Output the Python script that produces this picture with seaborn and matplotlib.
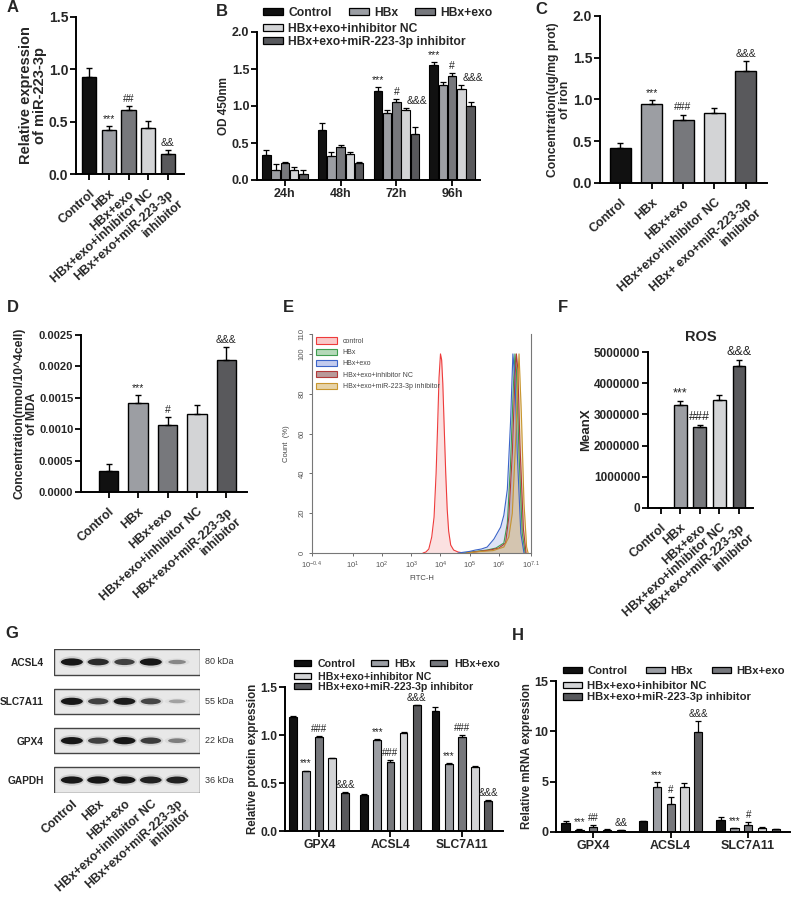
import matplotlib

matplotlib.use("Agg")
import matplotlib.pyplot as plt
from matplotlib.patches import Ellipse, Patch, Rectangle
import numpy as np
import pandas as pd
import seaborn as sns

sns.set_theme(style="ticks")
plt.rcParams["font.family"] = ["Liberation Sans", "DejaVu Sans"]
plt.rcParams["mathtext.fontset"] = "custom"
plt.rcParams["mathtext.rm"] = "Liberation Sans"
plt.rcParams["mathtext.it"] = "Liberation Sans:italic"
plt.rcParams["mathtext.bf"] = "Liberation Sans:bold"

GROUPS = ["Control", "HBx", "HBx+exo", "HBx+exo+inhibitor NC", "HBx+exo+miR-223-3p inhibitor"]
TICK_LABELS = ["Control", "HBx", "HBx+exo", "HBx+exo+inhibitor NC", "HBx+exo+miR-223-3p\ninhibitor"]
C_TICK_LABELS = ["Control", "HBx", "HBx+exo", "HBx+exo+inhibitor NC", "HBx+ exo+miR-223-3p\ninhibitor"]
BAR_COLORS = ["#111111", "#9b9ea4", "#76787d", "#d3d4d6", "#58595d"]

# A - miR-223-3p
A_VALS = [0.93, 0.42, 0.61, 0.44, 0.19]
A_ERR = [0.08, 0.04, 0.04, 0.07, 0.04]
A_MARKS = ["", "***", "##", "", "&&"]

# B - CCK-8, one list per group over time
B_TIMES = ["24h", "48h", "72h", "96h"]
B_VALS = [
    [0.34, 0.68, 1.20, 1.55],
    [0.14, 0.32, 0.90, 1.28],
    [0.23, 0.44, 1.05, 1.40],
    [0.14, 0.35, 0.95, 1.23],
    [0.08, 0.23, 0.62, 1.00],
]
B_ERR = [
    [0.06, 0.09, 0.06, 0.04],
    [0.07, 0.06, 0.05, 0.04],
    [0.02, 0.03, 0.04, 0.04],
    [0.03, 0.03, 0.02, 0.05],
    [0.06, 0.01, 0.10, 0.05],
]
B_MARKS = [
    ["", "", "***", "***"],
    ["", "", "", ""],
    ["", "", "#", "#"],
    ["", "", "", ""],
    ["", "", "&&&", "&&&"],
]

# C - iron
C_VALS = [0.42, 0.95, 0.76, 0.84, 1.34]
C_ERR = [0.06, 0.04, 0.06, 0.06, 0.12]
C_MARKS = ["", "***", "###", "", "&&&"]

# D - MDA
D_VALS = [0.00034, 0.00141, 0.00106, 0.00125, 0.00210]
D_ERR = [0.00010, 0.00013, 0.00014, 0.00014, 0.00021]
D_MARKS = ["", "***", "#", "", "&&&"]

# E - flow cytometry histograms (log10 FITC-H, count %)
E_LABELS = ["control", "HBx", "HBx+exo", "HBx+exo+inhibitor NC", "HBx+exo+miR-223-3p inhibitor"]
E_LINE_COLORS = ["#ee3b3b", "#3f9d4f", "#3b64c8", "#b23a3a", "#c8962e"]
E_FILL_COLORS = ["#f9c9c9", "#b5d9b9", "#c3cbee", "#b89a9a", "#e6d3a8"]
E_LOGX = [
    [3.40, 3.50, 3.60, 3.70, 3.78, 3.85, 3.90, 3.95, 4.00, 4.04, 4.08, 4.13, 4.18, 4.23, 4.28, 4.35, 4.45, 4.60, 4.80],
    [4.80, 5.20, 5.60, 5.90, 6.17, 6.29, 6.40, 6.50, 6.55, 6.60, 6.69, 6.80, 6.90],
    [4.60, 5.00, 5.20, 5.40, 5.60, 5.83, 6.06, 6.17, 6.29, 6.40, 6.48, 6.55, 6.63, 6.75, 6.86],
    [4.90, 5.30, 5.70, 6.00, 6.23, 6.34, 6.46, 6.55, 6.60, 6.65, 6.72, 6.84, 6.93],
    [4.90, 5.40, 5.80, 6.17, 6.34, 6.46, 6.57, 6.66, 6.69, 6.77, 6.86, 6.95, 7.00],
]
E_COUNTS = [
    [0, 0.5, 2, 8, 18, 40, 63, 88, 100, 97, 85, 62, 40, 22, 11, 4, 1.5, 0.5, 0],
    [0, 0.8, 1.5, 2.5, 5, 15, 45, 85, 100, 92, 50, 10, 0],
    [0, 0.8, 1.5, 2.0, 3, 7, 13, 19, 32, 66, 100, 88, 50, 10, 0],
    [0, 0.8, 1.5, 2.5, 5, 18, 50, 88, 100, 92, 55, 12, 0],
    [0, 0.8, 1.2, 3, 8, 20, 55, 90, 100, 70, 25, 3, 0],
]
E_XTICK_EXP = ["-0.4", "1", "2", "3", "4", "5", "6", "7.1"]
E_YTICKS = [0, 20, 40, 60, 80, 100, 110]

# F - ROS
F_VALS = [0, 3310000, 2600000, 3470000, 4560000]
F_ERR = [0, 110000, 50000, 150000, 170000]
F_MARKS = ["", "***", "###", "", "&&&"]

# G - western blot and quantification
BLOT_PROTEINS = ["ACSL4", "SLC7A11", "GPX4", "GAPDH"]
BLOT_KDA = ["80 kDa", "55 kDa", "22 kDa", "36 kDa"]
BLOT_INTENSITY = [
    [0.95, 0.85, 0.75, 0.95, 0.40],
    [0.95, 0.75, 0.92, 0.72, 0.28],
    [0.95, 0.75, 0.95, 0.78, 0.45],
    [0.95, 0.95, 0.95, 0.90, 0.90],
]
GENES = ["GPX4", "ACSL4", "SLC7A11"]
G_VALS = [
    [1.19, 0.38, 1.25],
    [0.62, 0.95, 0.70],
    [0.98, 0.72, 0.98],
    [0.76, 1.02, 0.67],
    [0.40, 1.31, 0.31],
]
G_ERR = [
    [0.01, 0.005, 0.04],
    [0.01, 0.01, 0.01],
    [0.01, 0.02, 0.02],
    [0.005, 0.01, 0.005],
    [0.01, 0.005, 0.01],
]
G_MARKS = [
    ["", "", ""],
    ["***", "***", "***"],
    ["###", "###", "###"],
    ["", "", ""],
    ["&&&", "&&&", "&&&"],
]

# H - qPCR
H_VALS = [
    [0.90, 1.05, 1.20],
    [0.20, 4.50, 0.35],
    [0.45, 2.75, 0.70],
    [0.22, 4.50, 0.40],
    [0.15, 9.90, 0.28],
]
H_ERR = [
    [0.15, 0.05, 0.25],
    [0.05, 0.45, 0.05],
    [0.20, 0.70, 0.25],
    [0.05, 0.40, 0.08],
    [0.05, 1.15, 0.05],
]
H_MARKS = [
    ["", "", ""],
    ["***", "***", "***"],
    ["##", "#", "#"],
    ["", "", ""],
    ["&&", "&&&", ""],
]

W, H = 795, 899
ROT = 42
fig = plt.figure(figsize=(W / 100, H / 100), dpi=100)


def px_axes(left, top, right, bottom):
    return fig.add_axes([left / W, 1 - bottom / H, (right - left) / W, (bottom - top) / H])


def prism_style(ax, yticks, ylabels, ylabel, ylabel_size, tick_size):
    sns.despine(ax=ax)
    for side in ("left", "bottom"):
        ax.spines[side].set_linewidth(1.4)
        ax.spines[side].set_color("black")
    ax.tick_params(direction="out", length=4, width=1.3, color="black", labelsize=tick_size, pad=1.5)
    ax.set_ylim(yticks[0], yticks[-1])
    ax.set_yticks(yticks)
    ax.set_yticklabels(ylabels, fontweight="bold")
    ax.set_ylabel(ylabel, fontsize=ylabel_size, fontweight="bold", labelpad=1, linespacing=1.0)
    ax.set_xlabel("")
    ax.set_facecolor("none")


def mark(ax, x, y, text, size=7.5):
    ax.annotate(text, (x, y), xytext=(0, 1.5), textcoords="offset points",
                ha="center", va="bottom", fontsize=size, color="#222222", fontweight="normal")


def single_panel(box, vals, errs, marks, labels, width, xlim, yticks, ylabels, ylabel,
                 ylabel_size, tick_size, mark_size=7.5):
    ax = px_axes(*box)
    df = pd.DataFrame({"group": GROUPS, "value": vals})
    sns.barplot(data=df, x="group", y="value", hue="group", palette=BAR_COLORS, width=width,
                edgecolor="black", linewidth=1.0, errorbar=None, legend=False, ax=ax)
    xs = np.arange(len(GROUPS))
    ax.errorbar(xs, vals, yerr=[np.zeros(len(vals)), errs], fmt="none", ecolor="black",
                elinewidth=1.0, capsize=2.5, capthick=1.0)
    for x, v, e, m in zip(xs, vals, errs, marks):
        if m:
            mark(ax, x, v + e, m, mark_size)
    prism_style(ax, yticks, ylabels, ylabel, ylabel_size, tick_size)
    ax.set_xlim(*xlim)
    ax.set_xticks(xs)
    ax.set_xticklabels(labels, rotation=ROT, ha="right", rotation_mode="anchor",
                       fontweight="bold", fontsize=9)
    ax.tick_params(axis="x", pad=6)
    return ax


def grouped_panel(box, cats, vals, errs, width, gap, xlim):
    ax = px_axes(*box)
    rows = [(c, g, v) for g, vv in zip(GROUPS, vals) for c, v in zip(cats, vv)]
    df = pd.DataFrame(rows, columns=["cat", "group", "value"])
    sns.barplot(data=df, x="cat", y="value", hue="group", hue_order=GROUPS, palette=BAR_COLORS,
                width=width, gap=gap, edgecolor="black", linewidth=0.8, errorbar=None,
                legend=False, ax=ax)
    centers = []
    for cont, vv, ee in zip(list(ax.containers), vals, errs):
        xs = [b.get_x() + b.get_width() / 2 for b in cont]
        ax.errorbar(xs, vv, yerr=[np.zeros(len(vv)), ee], fmt="none", ecolor="black",
                    elinewidth=0.9, capsize=2, capthick=0.9)
        centers.append(xs)
    ax.set_xlim(*xlim)
    return ax, centers


def legend_rows(x, y, row_gap, size, hlen, htpad, colsp, lspace=0.1):
    handles = [Patch(facecolor=c, edgecolor="black", linewidth=0.9) for c in BAR_COLORS]
    kw = dict(loc="upper left", frameon=False, prop={"weight": "bold", "size": size},
              handlelength=hlen, handleheight=0.55, handletextpad=htpad, borderpad=0,
              borderaxespad=0, labelspacing=lspace)
    fig.legend(handles[:3], GROUPS[:3], bbox_to_anchor=(x / W, 1 - y / H), ncol=3,
               columnspacing=colsp, **kw)
    fig.legend(handles[3:], GROUPS[3:], bbox_to_anchor=(x / W, 1 - (y + row_gap) / H),
               ncol=1, **kw)


def panel_letter(x, y, s):
    fig.text(x / W, 1 - y / H, s, fontsize=12, fontweight="bold", ha="left", va="center")


# ---- A
single_panel((76, 17, 184, 174), A_VALS, A_ERR, A_MARKS, TICK_LABELS, 0.73, (-0.68, 4.83),
             [0, 0.5, 1.0, 1.5], ["0.0", "0.5", "1.0", "1.5"],
             "Relative expression\nof miR-223-3p", 10.5, 10)

# ---- B
axb, bx = grouped_panel((257, 32, 480, 180), B_TIMES, B_VALS, B_ERR, 0.83, 0.1, (-0.5, 3.5))
for gi in range(len(GROUPS)):
    for ti in range(len(B_TIMES)):
        m = B_MARKS[gi][ti]
        if not m:
            continue
        top = B_VALS[gi][ti] + B_ERR[gi][ti]
        x = bx[gi][ti]
        if m == "&&&":
            top = max(top, B_VALS[gi - 1][ti] + B_ERR[gi - 1][ti])
            x += 0.04
        mark(axb, x, top, m)
prism_style(axb, [0, 0.5, 1.0, 1.5, 2.0], ["0.0", "0.5", "1.0", "1.5", "2.0"], "OD 450nm", 8.5, 9)
for t in axb.get_xticklabels():
    t.set_fontweight("bold")
legend_rows(263, 7, 15.5, 8.7, 1.65, 0.45, 1.4)

# ---- C
single_panel((600, 16, 767, 183), C_VALS, C_ERR, C_MARKS, C_TICK_LABELS, 0.67, (-0.65, 4.68),
             [0, 0.5, 1.0, 1.5, 2.0], ["0.0", "0.5", "1.0", "1.5", "2.0"],
             "Concentration(ug/mg prot)\nof iron", 8.7, 10)

# ---- D
single_panel((81, 335, 247, 492), D_VALS, D_ERR, D_MARKS, TICK_LABELS, 0.66, (-0.94, 4.7),
             [0, 0.0005, 0.0010, 0.0015, 0.0020, 0.0025],
             ["0.0000", "0.0005", "0.0010", "0.0015", "0.0020", "0.0025"],
             "Concentration(nmol/10^4cell)\nof MDA", 8.7, 8)

# ---- E
axe = px_axes(312, 334, 531, 553)
for lx, cnt, lc, fc in zip(E_LOGX, E_COUNTS, E_LINE_COLORS, E_FILL_COLORS):
    xv = 10 ** np.array(lx)
    axe.fill_between(xv, cnt, color=fc, alpha=0.55, lw=0)
    axe.plot(xv, cnt, color=lc, lw=0.8)
axe.set_xscale("log")
axe.set_xlim(10 ** -0.4, 10 ** 7.1)
axe.set_ylim(0, 110)
axe.set_xticks([10 ** float(v) for v in E_XTICK_EXP])
axe.set_xticklabels([r"$10^{%s}$" % v for v in E_XTICK_EXP])
axe.xaxis.set_minor_locator(matplotlib.ticker.NullLocator())
axe.set_yticks(E_YTICKS)
axe.set_yticklabels([str(v) for v in E_YTICKS], rotation=90, va="center")
axe.tick_params(labelsize=5.5, colors="#555555", length=2.5, width=0.6, pad=2)
for side in ("left", "bottom", "right"):
    axe.spines[side].set_color("#777777")
    axe.spines[side].set_linewidth(0.8)
axe.spines["top"].set_visible(False)
axe.set_facecolor("white")
axe.set_xlabel("FITC-H", fontsize=5.5, color="#444444", labelpad=3)
axe.set_ylabel("Count  (%)", fontsize=5.5, color="#444444", labelpad=6)
e_handles = [Patch(facecolor=fc, edgecolor=lc, linewidth=0.8) for lc, fc in zip(E_LINE_COLORS, E_FILL_COLORS)]
leg = axe.legend(e_handles, E_LABELS, loc="upper left", bbox_to_anchor=(0.02, 0.985), frameon=False,
                 fontsize=5, handlelength=2.9, handleheight=1.0, handletextpad=0.9,
                 labelspacing=0.55, borderpad=0, borderaxespad=0)
for t in leg.get_texts():
    t.set_color("#444444")

# ---- F
axf = single_panel((648, 352, 753, 508), F_VALS, F_ERR, F_MARKS, TICK_LABELS, 0.65, (-0.65, 4.72),
                   [0, 1000000, 2000000, 3000000, 4000000, 5000000],
                   ["0", "1000000", "2000000", "3000000", "4000000", "5000000"],
                   "MeanX", 9.5, 8.5, mark_size=9)
axf.set_title("ROS", fontsize=10.5, fontweight="bold", pad=8)

# ---- G blot
axw = px_axes(54, 649, 200, 793)
axw.set_xlim(-0.68, 4.87)
axw.set_ylim(3.33, -0.33)
for ri, row in enumerate(BLOT_INTENSITY):
    axw.add_patch(Rectangle((-0.68, ri - 0.32), 5.55, 0.64, facecolor="#e8e8e8",
                            edgecolor="#444444", lw=1.0))
    for li, s in enumerate(row):
        axw.add_patch(Ellipse((li, ri), 0.95, 0.1 + 0.2 * s, facecolor="black",
                              alpha=0.12 * s, lw=0))
        axw.add_patch(Ellipse((li, ri), 0.55 + 0.3 * s, 0.06 + 0.13 * s,
                              facecolor=str(round(0.85 - 0.8 * s, 2)), lw=0))
    axw.text(5.05, ri, BLOT_KDA[ri], va="center", ha="left", fontsize=6.5, color="#333333",
             fontweight="normal")
axw.set_yticks(range(len(BLOT_PROTEINS)))
axw.set_yticklabels(BLOT_PROTEINS, fontweight="bold", fontsize=7.3)
axw.set_xticks(range(len(GROUPS)))
axw.set_xticklabels(TICK_LABELS, rotation=ROT, ha="right", rotation_mode="anchor",
                    fontweight="bold", fontsize=8.8, linespacing=1.0)
axw.tick_params(length=0, pad=3.5)
axw.tick_params(axis="y", pad=7.5)
for sp in axw.spines.values():
    sp.set_visible(False)
axw.set_facecolor("none")

# ---- G bars
axg, gx = grouped_panel((285, 687, 503, 831), GENES, G_VALS, G_ERR, 0.92, 0.4, (-0.48, 2.58))
for gi in range(len(GROUPS)):
    for ci in range(len(GENES)):
        if G_MARKS[gi][ci]:
            mark(axg, gx[gi][ci], G_VALS[gi][ci] + G_ERR[gi][ci], G_MARKS[gi][ci], 7)
prism_style(axg, [0, 0.5, 1.0, 1.5], ["0.0", "0.5", "1.0", "1.5"], "Relative protein expression", 8.3, 8.7)
for t in axg.get_xticklabels():
    t.set_fontweight("bold")
legend_rows(294, 659, 13, 7.7, 1.6, 0.65, 1.35, 0.0)

# ---- H
axh, hx = grouped_panel((556, 681, 790, 832), GENES, H_VALS, H_ERR, 0.89, 0.4, (-0.48, 2.54))
for gi in range(len(GROUPS)):
    for ci in range(len(GENES)):
        if H_MARKS[gi][ci]:
            mark(axh, hx[gi][ci], H_VALS[gi][ci] + H_ERR[gi][ci], H_MARKS[gi][ci], 7)
prism_style(axh, [0, 5, 10, 15], ["0", "5", "10", "15"], "Relative mRNA expression", 8.3, 9)
for t in axh.get_xticklabels():
    t.set_fontweight("bold")
legend_rows(563, 666, 15, 8.1, 1.7, 0.45, 1.7)

for x, y, s in [(7, 8, "A"), (216, 12, "B"), (535, 9, "C"), (7, 307, "D"), (283, 307, "E"),
                (558, 307, "F"), (5, 633, "G"), (512, 635, "H")]:
    panel_letter(x, y, s)

fig.savefig("out.png", dpi=100)
